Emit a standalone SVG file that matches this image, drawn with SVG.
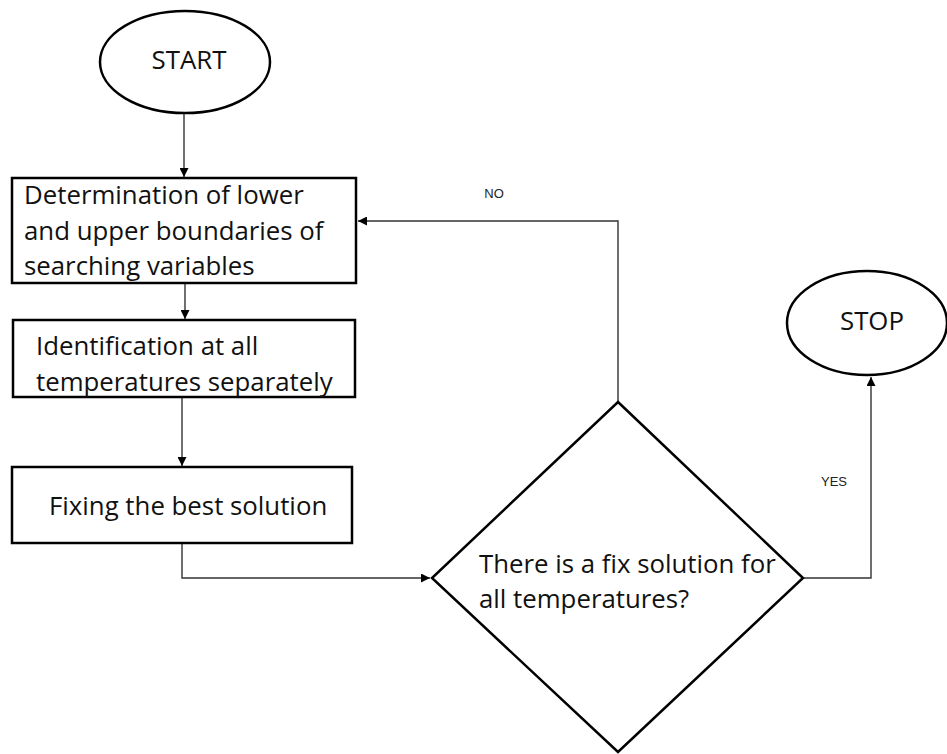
<svg xmlns="http://www.w3.org/2000/svg" width="947" height="754" viewBox="0 0 947 754">
<style>
.shape{fill:#fff;stroke:#000;stroke-width:2.5}
.conn{fill:none;stroke:#333;stroke-width:1.4}
.t{font-family:"Open Sans","Noto Sans","DejaVu Sans",sans-serif;font-size:25.8px;fill:#111}
.c{text-anchor:middle}
.lbl{font-family:"Liberation Sans",Arial,sans-serif;font-size:13px;fill:#222;text-anchor:middle}
</style>
<defs>
<marker id="arr" viewBox="0 0 10 10" refX="10" refY="5" markerWidth="9" markerHeight="9" markerUnits="userSpaceOnUse" orient="auto">
<path d="M0,0 L10,5 L0,10 Z" fill="#000"/>
</marker>
</defs>
<rect width="947" height="754" fill="#fff"/>
<g id="connectors">
<line class="conn" x1="184" y1="114" x2="184" y2="177" marker-end="url(#arr)"/>
<line class="conn" x1="185" y1="284" x2="185" y2="319" marker-end="url(#arr)"/>
<line class="conn" x1="182" y1="398" x2="182" y2="466" marker-end="url(#arr)"/>
<polyline class="conn" points="182,544 182,578 430,578" marker-end="url(#arr)"/>
<polyline class="conn" points="618,402 618,221 358,221" marker-end="url(#arr)"/>
<polyline class="conn" points="804,578 871,578 871,377" marker-end="url(#arr)"/>
<text class="lbl" x="494" y="198">NO</text>
<text class="lbl" x="834" y="486">YES</text>
</g>
<g id="start">
<ellipse class="shape" cx="185" cy="62" rx="85" ry="51"/>
<text class="t c" x="189" y="69" font-size="19">START</text>
</g>
<g id="box1">
<rect class="shape" x="12" y="178" width="344" height="105"/>
<text class="t" x="24" y="204">Determination of lower</text>
<text class="t" x="24" y="240">and upper boundaries of</text>
<text class="t" x="24" y="275">searching variables</text>
</g>
<g id="box2">
<rect class="shape" x="13" y="320" width="342" height="77"/>
<text class="t" x="36" y="355">Identification at all</text>
<text class="t" x="36" y="391">temperatures separately</text>
</g>
<g id="box3">
<rect class="shape" x="12" y="467" width="340" height="76"/>
<text class="t" x="49" y="515">Fixing the best solution</text>
</g>
<g id="decision">
<polygon class="shape" points="618,402 803,578 618,752 432,578"/>
<text class="t" x="479" y="573">There is a fix solution for</text>
<text class="t" x="479" y="608">all temperatures?</text>
</g>
<g id="stop">
<ellipse class="shape" cx="867" cy="323" rx="80" ry="52"/>
<text class="t c" x="872" y="330" font-size="19">STOP</text>
</g>
</svg>
